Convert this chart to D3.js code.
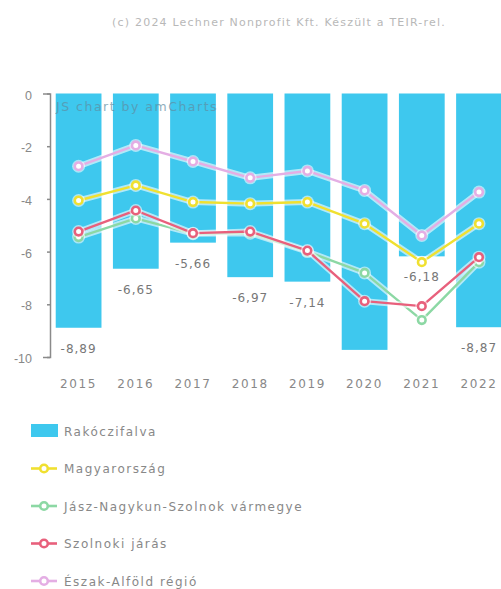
<!DOCTYPE html>
<html><head><meta charset="utf-8">
<script src="https://cdn.jsdelivr.net/npm/d3@7/dist/d3.min.js"></script>
<style>
html,body{margin:0;padding:0;background:#fff;overflow:hidden;}
svg{display:block;font-family:"DejaVu Sans",Verdana,sans-serif;}
</style></head>
<body>
<svg id="chart" width="501" height="589"></svg>
<script>
const years = ["2015","2016","2017","2018","2019","2020","2021","2022"];
const rakoczifalva = [-8.89,-6.65,-5.66,-6.97,-7.14,-9.73,-6.18,-8.87];
const magyarorszag = [-4.06,-3.49,-4.12,-4.18,-4.12,-4.94,-6.40,-4.94];
const jnszVarmegye = [-5.45,-4.74,-5.32,-5.30,-6.00,-6.81,-8.60,-6.40];
const szolnokiJaras = [-5.24,-4.44,-5.30,-5.24,-5.96,-7.88,-8.07,-6.21];
const eszakAlfold = [-2.76,-1.97,-2.58,-3.20,-2.94,-3.68,-5.39,-3.74];
const yTicks = [0,-2,-4,-6,-8,-10];
const titleText = "(c) 2024 Lechner Nonprofit Kft. Készült a TEIR-rel.";

const lineSeries = [
  {name:"Magyarország", values:magyarorszag, color:"#f0e030"},
  {name:"Jász-Nagykun-Szolnok vármegye", values:jnszVarmegye, color:"#8cd8a4"},
  {name:"Szolnoki járás", values:szolnokiJaras, color:"#e8607c"},
  {name:"Észak-Alföld régió", values:eszakAlfold, color:"#e4aee4"}
];
const barColor = "#3ec8ee";
const textColor = "#888";

const svg = d3.select("#chart");
const xScale = d3.scaleBand().domain(years).range([50, 507.6]).paddingInner(0.2).paddingOuter(0.1);
const yScale = d3.scaleLinear().domain([-10, 0]).range([357, 93.5]);
const cx = d => xScale(d) + xScale.bandwidth() / 2;

// bars
svg.append("g").selectAll("rect").data(years).join("rect")
  .attr("x", d => xScale(d)).attr("width", xScale.bandwidth())
  .attr("y", yScale(0)).attr("height", (d,i) => yScale(rakoczifalva[i]) - yScale(0))
  .attr("fill", barColor);

// y axis
const yAxis = d3.axisLeft(yScale).tickValues(yTicks).tickSizeInner(3).tickSizeOuter(7).tickPadding(15)
  .tickFormat(d => d === 0 ? "0" : "-" + Math.abs(d));
const ga = svg.append("g").attr("class", "yaxis").attr("transform","translate(50,0)").call(yAxis);
ga.select(".domain").attr("stroke", "#8a8a8a").attr("stroke-width", 1.5);
ga.selectAll(".tick line").attr("stroke", "#8a8a8a").attr("stroke-width", 1.5);
ga.selectAll(".tick text").attr("fill", textColor).attr("font-size", 12.5).attr("dy", "0.45em");

// title
svg.append("text").attr("x", 279).attr("y", 26).attr("text-anchor","middle")
  .attr("font-size", 11).style("letter-spacing", "1.2px").attr("fill", "#b8b8b8").text(titleText);

// watermark
svg.append("text").attr("x", 56).attr("y", 111).attr("font-size", 12.5)
  .style("letter-spacing", "1.5px").attr("fill", "#5f8ea3").attr("opacity", 0.7).text("JS chart by amCharts");

// bar labels
svg.append("g").selectAll("text").data(years).join("text")
  .attr("x", d => cx(d))
  .attr("y", (d,i) => yScale(rakoczifalva[i]) + 25)
  .attr("text-anchor","middle").attr("font-size", 12).style("letter-spacing", "1px")
  .attr("fill", "#777")
  .attr("display", (d,i) => (yScale(rakoczifalva[i]) + 20 > yScale(-10)) ? "none" : null)
  .text((d,i) => rakoczifalva[i].toFixed(2).replace(".", ","));

// x labels
svg.append("g").selectAll("text").data(years).join("text")
  .attr("x", d => cx(d)).attr("y", 388)
  .attr("text-anchor","middle").attr("font-size", 12).style("letter-spacing", "1.6px")
  .attr("fill", textColor).text(d => d);

// lines
const lineGen = d3.line().x((v,i) => cx(years[i])).y(v => yScale(v));
lineSeries.forEach(s => {
  const g = svg.append("g");
  g.append("path").attr("d", lineGen(s.values)).attr("fill","none")
    .attr("stroke", "#fff").attr("stroke-opacity", 0.6).attr("stroke-width", 6).attr("stroke-linejoin","round");
  g.append("path").attr("d", lineGen(s.values)).attr("fill","none")
    .attr("stroke", s.color).attr("stroke-width", 2.4).attr("stroke-linejoin","round");
  g.selectAll("circle.h").data(s.values).join("circle").attr("class","h")
    .attr("cx", (v,i) => cx(years[i])).attr("cy", v => yScale(v))
    .attr("r", 6.5).attr("fill", "#fff").attr("opacity", 0.55);
  g.selectAll("circle.m").data(s.values).join("circle").attr("class","m")
    .attr("cx", (v,i) => cx(years[i])).attr("cy", v => yScale(v))
    .attr("r", 3.8).attr("fill", "#fff").attr("stroke", s.color).attr("stroke-width", 2.6);
});

// legend
const legendItems = [{name:"Rakóczifalva", type:"bar", color:barColor}]
  .concat(lineSeries.map(s => ({name:s.name, type:"line", color:s.color})));
const lg = svg.append("g");
legendItems.forEach((it, i) => {
  const ly = 431 + i * 37.5;
  if (it.type === "bar") {
    lg.append("rect").attr("x", 31).attr("y", ly - 7).attr("width", 27).attr("height", 13).attr("fill", it.color);
  } else {
    lg.append("line").attr("x1", 31).attr("x2", 57).attr("y1", ly).attr("y2", ly)
      .attr("stroke", it.color).attr("stroke-width", 2.6);
    lg.append("circle").attr("cx", 44).attr("cy", ly).attr("r", 3.8).attr("fill", "#fff")
      .attr("stroke", it.color).attr("stroke-width", 2.6);
  }
  lg.append("text").attr("x", 64).attr("y", ly + 4.5).attr("font-size", 12).style("letter-spacing", "1.5px")
    .attr("fill", textColor).text(it.name);
});
</script>
</body></html>
